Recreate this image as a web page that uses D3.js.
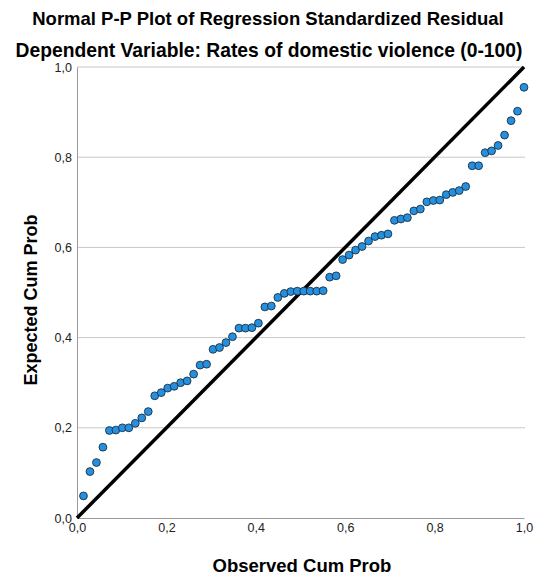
<!DOCTYPE html>
<html>
<head>
<meta charset="utf-8">
<script src="https://cdn.jsdelivr.net/npm/d3@7/dist/d3.min.js"></script>
<style>
  html, body { margin: 0; padding: 0; background: #fff; }
  svg { display: block; font-family: "Liberation Sans", Arial, sans-serif; }
</style>
</head>
<body>
<svg id="chart" width="537" height="580"></svg>
<script>
// Normal P-P plot: observed vs expected cumulative probability of standardized residuals
const n = 69;
const observed = d3.range(1, n + 1).map(i => i / n);
const expected = [
  0.049, 0.103, 0.123, 0.157, 0.194, 0.195, 0.200, 0.200, 0.210, 0.222,
  0.236, 0.271, 0.278, 0.288, 0.292, 0.300, 0.304, 0.319, 0.339, 0.341,
  0.374, 0.378, 0.389, 0.402, 0.421, 0.421, 0.422, 0.432, 0.468, 0.470,
  0.489, 0.498, 0.502, 0.503, 0.503, 0.503, 0.503, 0.504, 0.534, 0.537,
  0.573, 0.583, 0.594, 0.602, 0.614, 0.624, 0.627, 0.630, 0.660, 0.663,
  0.666, 0.681, 0.685, 0.701, 0.704, 0.705, 0.717, 0.722, 0.726, 0.735,
  0.781, 0.781, 0.810, 0.814, 0.826, 0.849, 0.881, 0.902, 0.955
];
const tickValues = [0, 0.2, 0.4, 0.6, 0.8, 1.0];
const titleText = "Normal P-P Plot of Regression Standardized Residual";
const subtitleText = "Dependent Variable: Rates of domestic violence (0-100)";
const xTitle = "Observed Cum Prob";
const yTitle = "Expected Cum Prob";

const svg = d3.select("#chart");
const m = { left: 77, right: 524, top: 67, bottom: 518 };

const x = d3.scaleLinear().domain([0, 1]).range([m.left, m.right]);
const y = d3.scaleLinear().domain([0, 1]).range([m.bottom, m.top]);
const fmt = d => d3.format(".1f")(d).replace(".", ",");

// titles
svg.append("text").attr("x", 268).attr("y", 25).attr("text-anchor", "middle")
  .attr("font-size", 18.5).attr("font-weight", "bold").attr("fill", "#000").text(titleText);
svg.append("text").attr("x", 269).attr("y", 57).attr("text-anchor", "middle")
  .attr("font-size", 19.3).attr("font-weight", "bold").attr("fill", "#000").text(subtitleText);

// horizontal gridlines
svg.append("g").selectAll("line").data(tickValues.filter(d => d > 0)).join("line")
  .attr("x1", m.left).attr("x2", m.right + 1)
  .attr("y1", d => y(d)).attr("y2", d => y(d))
  .attr("stroke", "#c8c8c8").attr("stroke-width", 1);

// y axis
const yAxis = svg.append("g").attr("transform", `translate(${m.left},0)`)
  .call(d3.axisLeft(y).tickValues(tickValues).tickFormat(fmt).tickSize(0).tickPadding(5));
yAxis.select(".domain").attr("stroke", "#9a9a9a");
yAxis.selectAll("text").attr("font-size", 12.5).attr("fill", "#222")
  .attr("font-family", "Liberation Sans, Arial, sans-serif");

// x axis
const xAxis = svg.append("g").attr("transform", `translate(0,${m.bottom})`)
  .call(d3.axisBottom(x).tickValues(tickValues).tickFormat(fmt).tickSize(0).tickPadding(5));
xAxis.select(".domain").attr("stroke", "#9a9a9a");
xAxis.selectAll("text").attr("font-size", 12.5).attr("fill", "#222")
  .attr("font-family", "Liberation Sans, Arial, sans-serif");

// reference diagonal
svg.append("line")
  .attr("x1", x(0)).attr("y1", y(0)).attr("x2", x(1)).attr("y2", y(1))
  .attr("stroke", "#000").attr("stroke-width", 3.5);

// points
const pts = observed.map((o, i) => ({ o, e: expected[i] }));
svg.append("g").selectAll("circle").data(pts).join("circle")
  .attr("cx", d => x(d.o)).attr("cy", d => y(d.e)).attr("r", 3.9)
  .attr("fill", "#2590dd").attr("stroke", "#1c2f45").attr("stroke-width", 0.9);

// axis titles
svg.append("text").attr("x", 302).attr("y", 572).attr("text-anchor", "middle")
  .attr("font-size", 18.5).attr("font-weight", "bold").attr("fill", "#000").text(xTitle);
svg.append("text").attr("transform", "translate(37,300) rotate(-90)").attr("text-anchor", "middle")
  .attr("font-size", 18).attr("font-weight", "bold").attr("fill", "#000").text(yTitle);
</script>
</body>
</html>
